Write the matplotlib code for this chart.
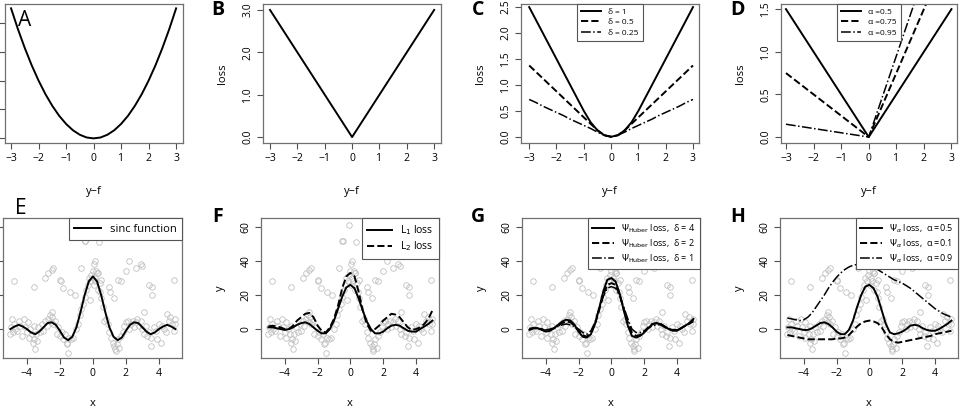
import numpy as np
import matplotlib
matplotlib.use("Agg")
import matplotlib.pyplot as plt

plt.rcParams['font.family'] = 'Open Sans'
plt.rcParams['mathtext.fontset'] = 'dejavusans'

# ---------- data ----------
loss_x = [-3, -2.75, -2.5, -2.25, -2, -1.75, -1.5, -1.25, -1, -0.75, -0.5, -0.25, 0,
          0.25, 0.5, 0.75, 1, 1.25, 1.5, 1.75, 2, 2.25, 2.5, 2.75, 3]
sq_loss = [4.5, 3.78, 3.125, 2.53, 2.0, 1.53, 1.125, 0.78, 0.5, 0.28, 0.125, 0.03, 0,
           0.03, 0.125, 0.28, 0.5, 0.78, 1.125, 1.53, 2.0, 2.53, 3.125, 3.78, 4.5]
abs_x = [-3, 0, 3]
abs_loss = [3, 0, 3]
huber_d1 = [2.5, 2.25, 2.0, 1.75, 1.5, 1.25, 1.0, 0.75, 0.5, 0.28, 0.125, 0.03, 0,
            0.03, 0.125, 0.28, 0.5, 0.75, 1.0, 1.25, 1.5, 1.75, 2.0, 2.25, 2.5]
huber_d05 = [1.375, 1.25, 1.125, 1.0, 0.875, 0.75, 0.625, 0.5, 0.375, 0.25, 0.125, 0.03, 0,
             0.03, 0.125, 0.25, 0.375, 0.5, 0.625, 0.75, 0.875, 1.0, 1.125, 1.25, 1.375]
huber_d025 = [0.72, 0.66, 0.59, 0.53, 0.47, 0.41, 0.34, 0.28, 0.22, 0.16, 0.09, 0.03, 0,
              0.03, 0.09, 0.16, 0.22, 0.28, 0.34, 0.41, 0.47, 0.53, 0.59, 0.66, 0.72]
quant_x = [-3, 0, 3]
quant_a05 = [1.5, 0, 1.5]
quant_a075 = [0.75, 0, 2.25]
quant_a095 = [0.15, 0, 2.85]

pts_x = [-4.8, -3.6, -2.9, -2.7, -2.5, -2.4, -2.0, -1.95, -1.8, -1.4, -0.7, -0.5, -0.45, -0.1,
         0.1, 0.05, 0.2, 0.3, 0.35, 0.5, 1.0, 1.05, 1.3, 1.5, 1.7, 2.0, 2.2, 2.6, 2.9, 3.0,
         3.4, 3.6, 3.6, 4.9, 3.1, -1.1,
         -5.0, -4.95, -4.9, -4.85, -4.8, -4.7, -4.6, -4.5, -4.4, -4.3, -4.2, -4.1, -4.0, -3.95,
         -3.9, -3.8, -3.7, -3.65, -3.6, -3.55, -3.5, -3.45, -3.4, -3.3, -3.2, -3.1, -3.0, -2.9,
         -2.8, -2.7, -2.6, -2.55, -2.5, -2.45, -2.4, -2.3, -2.2, -2.1, -2.0, -1.9, -1.8, -1.7,
         -1.6, -1.55, -1.5, -1.45, -1.3, -1.2, -1.0, -0.9, -0.8, -0.7, -0.6, -0.5, -0.4, -0.3,
         -0.25, -0.2, -0.15, -0.1, 0.0, 0.05, 0.1, 0.15, 0.25, 0.3, 0.4, 0.45, 0.5, 0.6, 0.7,
         0.8, 0.9, 1.0, 1.1, 1.2, 1.3, 1.35, 1.4, 1.45, 1.5, 1.6, 1.7, 1.8, 1.9, 2.0, 2.1, 2.2,
         2.3, 2.4, 2.5, 2.6, 2.7, 2.8, 2.9, 3.0, 3.1, 3.2, 3.3, 3.4, 3.5, 3.55, 3.7, 3.8, 3.9,
         4.0, 4.1, 4.2, 4.3, 4.4, 4.5, 4.6, 4.7, 4.8, 4.9, 5.0, 4.95]
pts_y = [28, 25, 30, 33, 35, 36, 29, 28, 24, 22, 36, 52, 52, 61,
         40, 38, 34, 33, 51, 29, 25, 22, 18, 29, 28, 34, 40, 36, 38, 37,
         26, 25, 20, 29, 10, 20,
         -3, 1, 6, -2, 3, 0, -1, 5, 2, -4, 6, 1, -2, 4,
         -5, 0, -3, -8, 2, -6, -12, -3, -7, 1, -2, 3, -1, 5,
         2, 6, 8, 4, 10, 7, 3, 5, -3, 1, -4, -2, -6, -3,
         -9, -8, -14, -5, -6, -5, 0, 3, 8, 12, 15, 19, 23, 26,
         30, 17, 28, 32, 34, 26, 30, 28, 33, 23, 27, 22, 18, 13, 5,
         6, 3, -2, -5, -8, -10, -12, -13, -9, -6, -11, -4, -2, 2, 4, 5,
         0, 3, 5, 1, 4, 6, 2, 5, 0, -3, 2, -4, -2, -10, -5, 1, -1, -6,
         3, -8, 2, 0, -2, 9, 5, 7, 3, -1, 3, 6]

fx = [-5, -4.75, -4.5, -4.25, -4, -3.75, -3.5, -3.25, -3, -2.75, -2.5, -2.25, -2, -1.75,
      -1.5, -1.25, -1, -0.75, -0.5, -0.25, 0, 0.25, 0.5, 0.75, 1, 1.25, 1.5, 1.75, 2, 2.25,
      2.5, 2.75, 3, 3.25, 3.5, 3.75, 4, 4.25, 4.5, 4.75, 5]
sinc_true = [0, 1.5, 2.5, 1.5, 0, -2, -3, -1.5, 1, 3.5, 4, 2.5, -1, -5, -6.5, -4.5, 1, 10, 20, 28, 31,
             28, 20, 10, 1, -4.5, -6.5, -5, -1, 2.5, 4, 3.5, 1, -1.5, -3, -2, 0, 1.5, 2.5, 1.5, 0]
fit_l1 = [1, 1, 0.5, 0, -0.5, 0, 1, 2.5, 3.5, 4, 3, 1, -1, -2.5, -2.5, 0, 5, 12, 19, 24.5, 26,
          24, 18, 11, 4.5, 0, -2.5, -2.5, -1.5, 0.5, 2, 2.5, 2, 0.5, -1, -1.5, -1.5, 0, 1.5, 3, 5]
fit_l2 = [1.5, 2, 1.5, 1, 0, 0, 2, 5, 7, 9, 9.5, 7, 2, -1, -2, 1, 6, 14, 24, 31, 33,
          31, 22, 11, 3, -1, 0, 2, 5, 7, 9, 8.5, 7, 4, 1, -0.5, 0, 1, 3, 6, 11]
hub_d4 = [-0.5, 0.5, 0.5, -0.5, -1.5, -1, 0.5, 2.5, 4.5, 5.5, 5, 2.5, -1.5, -4.5, -5, -3, 3, 12, 22, 29, 30,
          28, 21, 11, 2, -4, -5, -4, -2, 0.5, 3, 3.5, 3, 1.5, 0, -1, -1, 0.5, 2, 3.5, 6]
hub_d2 = [0, 0.5, 0.5, 0, -1, -0.5, 0.5, 2, 3.5, 4.5, 4, 2, -1, -3.5, -4.5, -2, 3, 11, 20, 26, 27,
          26, 20, 12, 4, -2, -4, -3.5, -1.5, 1, 3, 3.5, 3, 1.5, 0, -0.5, -0.5, 0.5, 2, 3.5, 5.5]
hub_d1 = [0.5, 0.5, 0.5, 0, -0.5, 0, 0.5, 1.5, 2.5, 3, 2.5, 1.5, 0, -2, -3, -1, 4, 12, 19, 24, 25,
          24, 20, 13, 6, 0, -2, -2, -1, 0.5, 2, 2.5, 2.5, 1, 0, -0.5, -0.5, 0.5, 2, 3, 4.5]
q_a05 = [1, 1, 0.5, 0, -0.5, -0.5, 0.5, 2, 3.5, 4, 3, 1, -1.5, -3, -3, -0.5, 5, 13, 20, 25, 26,
         24, 19, 11, 3, -2, -3, -2.5, -1.5, 0, 2, 2.5, 2, 0.5, -0.5, -1, -1, 0, 1.5, 3, 5]
q_a01 = [-3.5, -4, -4.5, -5, -5.5, -6, -6, -6, -6, -6, -6, -6, -5.5, -5.5, -5, -3.5, -1, 1.5, 3.5, 4.5, 5,
         4.5, 3.5, 1, -3, -6, -7.5, -8, -7.5, -7, -6.5, -6, -5.5, -5, -4.5, -4, -3, -2.5, -2, -1.5, -1]
q_a09 = [6.5, 6, 5.5, 5, 5.5, 7, 9.5, 13, 16.5, 20, 24, 27.5, 30.5, 33, 35, 36.5, 37.5, 38, 38, 37.5, 37,
         36, 35, 33.5, 32, 30.5, 29, 28, 27, 25.5, 24, 22, 20, 18, 16, 14, 12, 10.5, 9, 8, 7]

# ---------- layout helpers ----------
W, H = 960, 408
fig = plt.figure(figsize=(9.6, 4.08), dpi=100)

def ax_px(l, r, t, b):
    return fig.add_axes([l / W, 1 - b / H, (r - l) / W, (b - t) / H])

def style(ax):
    for s in ax.spines.values():
        s.set_color('#707070')
        s.set_linewidth(0.9)
    ax.tick_params(direction='out', length=4, width=0.8, color='#505050',
                   labelsize=7.5, pad=3)
    for lab in ax.get_yticklabels():
        lab.set_rotation(90)
        lab.set_va('center')

lw = 1.4
tops = dict(t=4, b=143)
bots = dict(t=218, b=358)

def add_letter(x, y, s, bold=True):
    fig.text(x / W, 1 - y / H, s, fontsize=14 if bold else 15,
             fontweight='bold' if bold else 'normal', ha='center', va='center')

def top_legend(ax):
    leg = ax.legend(loc='upper center', bbox_to_anchor=(0.5, 1.0), fontsize=6, fancybox=False,
                    edgecolor='#555555', framealpha=1, borderaxespad=0, handlelength=2.4,
                    labelspacing=0.3, borderpad=0.5)
    leg.get_frame().set_linewidth(0.8)

# A
ax = ax_px(5, 183, **tops)
ax.plot(loss_x, sq_loss, 'k-', lw=lw)
ax.set_xlim(-3.22, 3.25); ax.set_ylim(-0.16, 4.65)
ax.set_xticks([-3, -2, -1, 0, 1, 2, 3]); ax.set_yticks([0, 1, 2, 3, 4])
style(ax); ax.set_yticklabels([])
ax.set_xlabel('y−f', fontsize=8, labelpad=16)
ax.text(0.11, 0.88, 'A', transform=ax.transAxes, fontsize=15, ha='center', va='center')

# B
ax = ax_px(263, 441, **tops)
ax.plot(abs_x, abs_loss, 'k-', lw=lw)
ax.set_xlim(-3.0 - 7 / 27.3, 3.25); ax.set_ylim(-0.14, 3.14)
ax.set_xticks([-3, -2, -1, 0, 1, 2, 3]); ax.set_yticks([0, 1, 2, 3])
ax.set_yticklabels(['0.0', '1.0', '2.0', '3.0'])
style(ax)
ax.set_xlabel('y−f', fontsize=8, labelpad=16); ax.set_ylabel('loss', fontsize=8, labelpad=10)
add_letter(218, 10, 'B')

# C
ax = ax_px(521, 699, **tops)
ax.plot(loss_x, huber_d1, 'k-', lw=lw, label='δ = 1')
ax.plot(loss_x, huber_d05, 'k--', lw=lw, label='δ = 0.5')
ax.plot(loss_x, huber_d025, 'k-.', lw=1.1, label='δ = 0.25')
ax.set_xlim(-3.3, 3.22); ax.set_ylim(-0.12, 2.56)
ax.set_xticks([-3, -2, -1, 0, 1, 2, 3]); ax.set_yticks([0, 0.5, 1, 1.5, 2, 2.5])
ax.set_yticklabels(['0.0', '0.5', '1.0', '1.5', '2.0', '2.5'])
style(ax)
ax.set_xlabel('y−f', fontsize=8, labelpad=16); ax.set_ylabel('loss', fontsize=8, labelpad=10)
top_legend(ax)
add_letter(478, 10, 'C')

# D
ax = ax_px(781, 957, **tops)
ax.plot(quant_x, quant_a05, 'k-', lw=lw, label='α =0.5')
ax.plot(quant_x, quant_a075, 'k--', lw=lw, label='α =0.75')
ax.plot(quant_x, quant_a095, 'k-.', lw=1.1, label='α =0.95')
ax.set_xlim(-3.18, 3.2); ax.set_ylim(-0.07, 1.56)
ax.set_xticks([-3, -2, -1, 0, 1, 2, 3]); ax.set_yticks([0, 0.5, 1, 1.5])
ax.set_yticklabels(['0.0', '0.5', '1.0', '1.5'])
style(ax)
ax.set_xlabel('y−f', fontsize=8, labelpad=16); ax.set_ylabel('loss', fontsize=8, labelpad=10)
top_legend(ax)
add_letter(738, 10, 'D')

# bottom row
def bottom(l, r, curves, legfs=7.5, ylabel=True):
    ax = ax_px(l, r, **bots)
    ax.plot(pts_x, pts_y, 'o', ms=4, mfc='none', mec='#c0c0c0', mew=0.6, zorder=1)
    for ys, ls, lab, w in curves:
        ax.plot(fx, ys, color='k', ls=ls, lw=w, label=lab, zorder=3)
    ax.set_xlim(-5.45, 5.4); ax.set_ylim(-17, 65.3)
    ax.set_xticks([-4, -2, 0, 2, 4]); ax.set_yticks([0, 20, 40, 60])
    ax.set_xticklabels(['−4', '−2', '0', '2', '4'])
    style(ax)
    ax.set_xlabel('x', fontsize=8, labelpad=14)
    if ylabel:
        ax.set_ylabel('y', fontsize=8, labelpad=10)
    leg = ax.legend(loc='upper right', fontsize=legfs, fancybox=False, edgecolor='#555555',
                    framealpha=1, borderaxespad=0, handlelength=2.4, labelspacing=0.25,
                    borderpad=0.5)
    leg.get_frame().set_linewidth(0.8)
    return ax

ax = bottom(3, 182, [(sinc_true, '-', 'sinc function', lw)], legfs=8, ylabel=False)
ax.set_yticklabels([])
ax.text(0.1, 1.07, 'E', transform=ax.transAxes, fontsize=15, ha='center', va='center')

bottom(261, 439, [(fit_l1, '-', r'L$_1$ loss', lw), (fit_l2, '--', r'L$_2$ loss', lw)])
add_letter(218, 217, 'F')

bottom(522, 700, [(hub_d4, '-', r'$\Psi_{\rm Huber}$ loss,  δ = 4', lw),
                  (hub_d2, '--', r'$\Psi_{\rm Huber}$ loss,  δ = 2', lw),
                  (hub_d1, '-.', r'$\Psi_{\rm Huber}$ loss,  δ = 1', 1.1)], legfs=6.5)
add_letter(478, 217, 'G')

bottom(780, 958, [(q_a05, '-', r'$\Psi_\alpha$ loss,  α =0.5', lw),
                  (q_a01, '--', r'$\Psi_\alpha$ loss,  α =0.1', lw),
                  (q_a09, '-.', r'$\Psi_\alpha$ loss,  α =0.9', 1.1)], legfs=6.5)
add_letter(738, 217, 'H')

fig.savefig('out.png', dpi=100)
